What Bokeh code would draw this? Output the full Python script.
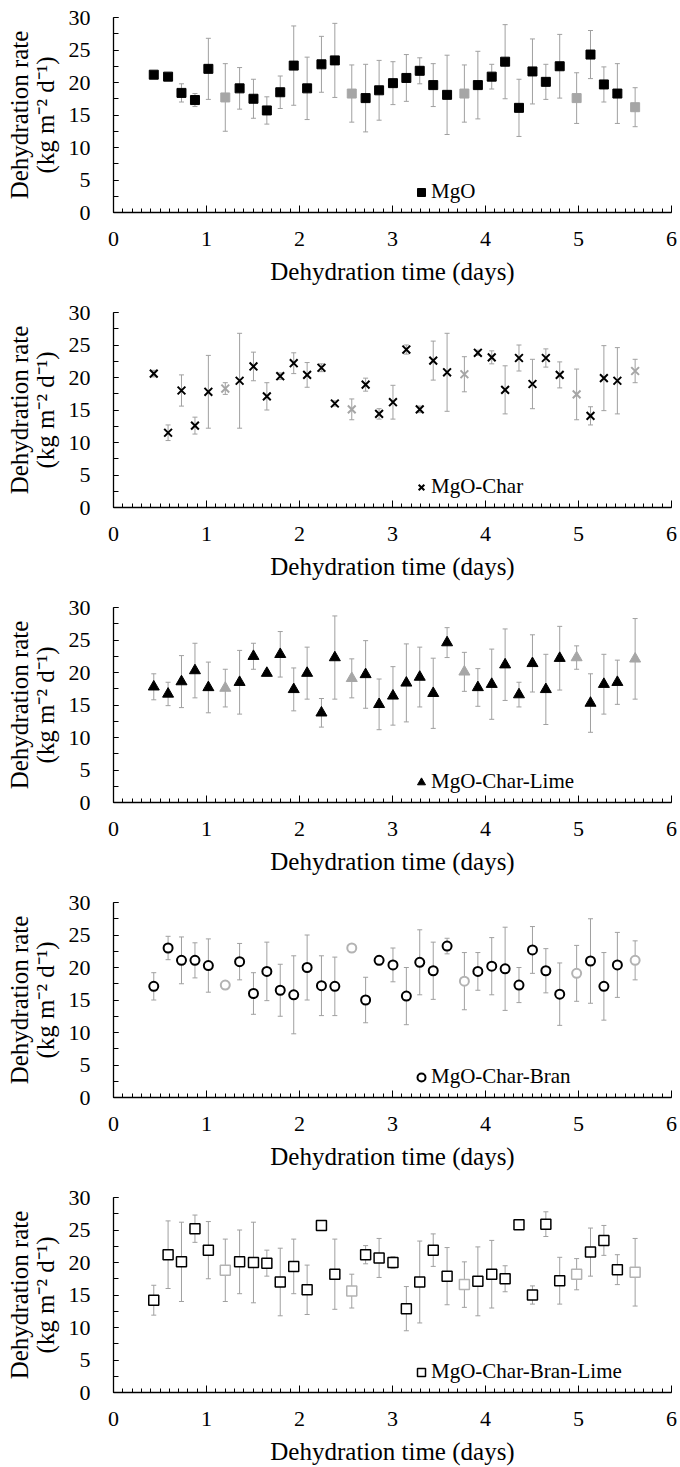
from bokeh.plotting import figure
from bokeh.models import (ColumnDataSource, Whisker, TeeHead, Legend, LegendItem,
                          Range1d, SingleIntervalTicker, LinearAxis, FixedTicker)
from bokeh.layouts import column
from bokeh.embed import file_html
from bokeh.resources import INLINE

# ---------------- data ----------------
days = [0.433, 0.587, 0.731, 0.876, 1.020, 1.356, 1.505, 1.649, 1.793, 1.938,
        2.082, 2.236, 2.380, 2.711, 2.856, 3.005, 3.149, 3.293, 3.438, 3.587,
        3.918, 4.067, 4.211, 4.360, 4.505, 4.649, 4.798, 5.129, 5.273, 5.418]
days_grey = [1.202, 2.562, 3.773, 4.980, 5.609]

mgo_rate = [21.2, 20.9, 18.4, 17.3, 22.1, 19.1, 17.5, 15.7, 18.5, 22.6,
            19.1, 22.8, 23.4, 17.6, 18.8, 19.9, 20.7, 21.8, 19.6, 18.1,
            19.6, 20.9, 23.2, 16.1, 21.7, 20.1, 22.5, 24.3, 19.7, 18.3]
mgo_err = [0.4, 0.4, 1.4, 1.0, 4.7, 3.2, 3.0, 2.1, 2.5, 6.1,
           4.8, 4.3, 5.7, 5.2, 4.6, 3.3, 3.6, 2.0, 3.3, 6.1,
           5.2, 1.9, 5.7, 4.4, 5.0, 2.7, 4.9, 3.7, 2.7, 4.6]
mgo_rate_grey = [17.7, 18.3, 18.3, 17.6, 16.2]
mgo_err_grey = [5.2, 4.4, 4.4, 3.9, 3.0]

char_rate = [20.6, 11.5, 18.0, 12.6, 17.8, 19.5, 21.7, 17.1, 20.2, 22.2,
             20.4, 21.5, 16.0, 18.9, 14.4, 16.2, 24.3, 15.1, 22.6, 20.8,
             23.8, 23.1, 18.1, 23.0, 19.0, 23.0, 20.4, 14.1, 19.9, 19.5]
char_err = [0.5, 1.2, 2.4, 1.3, 5.6, 7.3, 2.2, 2.1, 0.5, 1.6,
            1.9, 0.6, 0.4, 1.0, 0.8, 2.6, 0.7, 0.5, 3.0, 6.0,
            0.4, 1.0, 3.7, 2.0, 3.8, 1.4, 2.0, 1.4, 5.0, 5.1]
char_rate_grey = [18.3, 15.1, 20.5, 17.4, 21.0]
char_err_grey = [0.9, 1.6, 2.7, 3.9, 1.8]

lime_rate = [17.8, 16.7, 18.6, 20.3, 17.7, 18.5, 22.5, 19.9, 22.8, 17.4,
             19.9, 13.8, 22.3, 19.7, 15.1, 16.4, 18.4, 19.3, 16.8, 24.6,
             17.7, 18.2, 21.2, 16.6, 21.4, 17.4, 22.2, 15.3, 18.2, 18.5]
lime_err = [2.0, 1.8, 4.0, 4.2, 3.9, 4.9, 2.0, 0.4, 3.5, 3.3,
            4.0, 2.2, 6.4, 5.2, 3.9, 4.5, 6.0, 4.6, 5.4, 2.3,
            2.9, 5.4, 5.5, 1.9, 4.4, 5.4, 4.9, 4.5, 4.6, 3.4]
lime_rate_grey = [17.6, 19.1, 20.1, 22.3, 22.1]
lime_err_grey = [2.9, 3.0, 3.0, 1.8, 6.2]

bran_rate = [17.1, 23.0, 21.1, 21.1, 20.3, 20.9, 16.0, 19.4, 16.5, 15.8,
             20.0, 17.2, 17.1, 15.0, 21.1, 20.4, 15.6, 20.8, 19.5, 23.3,
             19.4, 20.2, 19.8, 17.3, 22.7, 19.5, 15.9, 21.0, 17.1, 20.4]
bran_err = [2.1, 1.8, 3.6, 2.7, 4.1, 2.8, 3.2, 4.5, 4.0, 6.0,
            5.0, 4.6, 4.5, 3.5, 0.7, 2.6, 4.4, 5.0, 4.4, 1.2,
            2.9, 4.4, 6.4, 2.7, 3.6, 3.4, 4.8, 6.5, 5.2, 5.0]
bran_rate_grey = [17.3, 23.0, 17.9, 19.1, 21.1]
bran_err_grey = [0.6, 0.4, 4.4, 4.3, 3.0]

bl_rate = [14.2, 21.2, 20.1, 25.2, 21.9, 20.1, 20.0, 19.9, 17.0, 19.4,
           15.8, 25.7, 18.2, 21.2, 20.7, 20.0, 12.9, 17.0, 21.9, 17.9,
           17.1, 18.2, 17.5, 25.8, 15.0, 25.9, 17.2, 21.6, 23.4, 18.9]
bl_err = [2.3, 5.2, 6.1, 2.1, 4.4, 4.9, 6.2, 2.0, 5.2, 4.2,
          3.8, 0.4, 5.4, 1.4, 3.0, 0.9, 3.4, 6.3, 2.5, 4.4,
          5.3, 5.2, 2.0, 0.4, 1.4, 1.9, 3.6, 3.7, 2.3, 2.3]
bl_rate_grey = [18.8, 15.6, 16.6, 18.2, 18.5]
bl_err_grey = [4.8, 2.6, 3.5, 2.4, 5.2]

labels = ["MgO", "MgO-Char", "MgO-Char-Lime", "MgO-Char-Bran", "MgO-Char-Bran-Lime"]
x_title = "Dehydration time (days)"
y_title_1 = "Dehydration rate"
y_title_2 = "(kg m\u207b\u00b2 d\u207b\u00b9)"

FONT = "'Liberation Serif', 'Times New Roman', serif"
GREY = "#a6a6a6"
ERR = "#a0a0a0"

styles = [
    dict(marker="square", size=9, fill="black", line="black", lw=1, gfill=GREY, gline=GREY),
    dict(marker="x", size=11, fill=None, line="black", lw=2, gfill=None, gline=GREY),
    dict(marker="triangle", size=11, fill="black", line="black", lw=1, gfill=GREY, gline=GREY),
    dict(marker="circle", size=9, fill="white", line="black", lw=2, gfill="white", gline="#b3b3b3"),
    dict(marker="square", size=10, fill="white", line="black", lw=1.5, gfill="white", gline="#b3b3b3"),
]

series = [
    (mgo_rate, mgo_err, mgo_rate_grey, mgo_err_grey),
    (char_rate, char_err, char_rate_grey, char_err_grey),
    (lime_rate, lime_err, lime_rate_grey, lime_err_grey),
    (bran_rate, bran_err, bran_rate_grey, bran_err_grey),
    (bl_rate, bl_err, bl_rate_grey, bl_err_grey),
]

heights = [295, 295, 295, 295, 287]
TOP = 17
FRAME_H = 195


def whisker(xs, ys, es):
    src = ColumnDataSource(dict(x=xs, upper=[y + e for y, e in zip(ys, es)],
                                lower=[y - e for y, e in zip(ys, es)]))
    return Whisker(source=src, base="x", upper="upper", lower="lower",
                   line_color=ERR, line_width=1, level="underlay",
                   upper_head=TeeHead(size=5, line_color=ERR, line_width=1),
                   lower_head=TeeHead(size=5, line_color=ERR, line_width=1))


figs = []
for i, (lab, st, (rate, err, rate_g, err_g)) in enumerate(zip(labels, styles, series)):
    h = heights[i]
    p = figure(width=680, height=h, x_range=Range1d(0, 6), y_range=Range1d(0, 30),
               output_backend="svg", toolbar_location=None,
               min_border_left=113, min_border_right=9, min_border_top=TOP,
               min_border_bottom=h - TOP - FRAME_H)
    p.outline_line_color = None
    p.xgrid.visible = False
    p.ygrid.visible = False

    p.xaxis.ticker = SingleIntervalTicker(interval=1, num_minor_ticks=10)
    p.yaxis.ticker = SingleIntervalTicker(interval=5, num_minor_ticks=2)
    for ax in (p.xaxis[0], p.yaxis[0]):
        ax.axis_line_color = "black"
        ax.axis_line_width = 1.3
        ax.major_tick_line_color = "black"
        ax.minor_tick_line_color = "black"
        ax.major_tick_out = 0
        ax.minor_tick_out = 0
        ax.major_label_text_font = FONT
        ax.major_label_text_font_size = "22px"
        ax.major_label_text_color = "black"
        ax.axis_label_text_font = FONT
        ax.axis_label_text_font_size = "25px"
        ax.axis_label_text_font_style = "normal"
        ax.axis_label_text_color = "black"
    p.xaxis.major_tick_in = 7
    p.xaxis.minor_tick_in = 4
    p.yaxis.major_tick_in = 5
    p.yaxis.minor_tick_in = 5
    p.xaxis.major_label_standoff = 19
    p.xaxis.axis_label_standoff = 9
    p.yaxis.major_label_standoff = 23
    p.yaxis.axis_label_standoff = 7
    p.xaxis.axis_label = x_title
    p.yaxis.axis_label = y_title_2

    # outer line of the two-line y title, drawn as a bare axis label
    title_axis = LinearAxis(ticker=FixedTicker(ticks=[]), axis_label=y_title_1,
                            axis_line_color=None, major_tick_line_color=None,
                            minor_tick_line_color=None, major_label_text_font_size="0px",
                            major_label_standoff=0, major_tick_in=0, major_tick_out=0,
                            minor_tick_in=0, minor_tick_out=0,
                            axis_label_standoff=-4, axis_label_text_font=FONT,
                            axis_label_text_font_size="25px",
                            axis_label_text_font_style="normal",
                            axis_label_text_color="black")
    p.add_layout(title_axis, "left")

    p.add_layout(whisker(days, rate, err))
    p.add_layout(whisker(days_grey, rate_g, err_g))

    r_black = p.scatter(days, rate, marker=st["marker"], size=st["size"],
                        fill_color=st["fill"], line_color=st["line"], line_width=st["lw"])
    p.scatter(days_grey, rate_g, marker=st["marker"], size=st["size"],
              fill_color=st["gfill"], line_color=st["gline"], line_width=st["lw"])

    legend = Legend(items=[LegendItem(label=lab, renderers=[r_black])],
                    location=(298, 8), padding=0, margin=0,
                    border_line_alpha=0, background_fill_alpha=0,
                    glyph_width=20, glyph_height=20, label_height=20,
                    label_standoff=0, spacing=0,
                    label_text_font=FONT, label_text_font_size="21px",
                    label_text_color="black")
    p.add_layout(legend)
    figs.append(p)

layout = column(*figs, spacing=0)
open("out.html", "w").write(file_html(layout, INLINE))
